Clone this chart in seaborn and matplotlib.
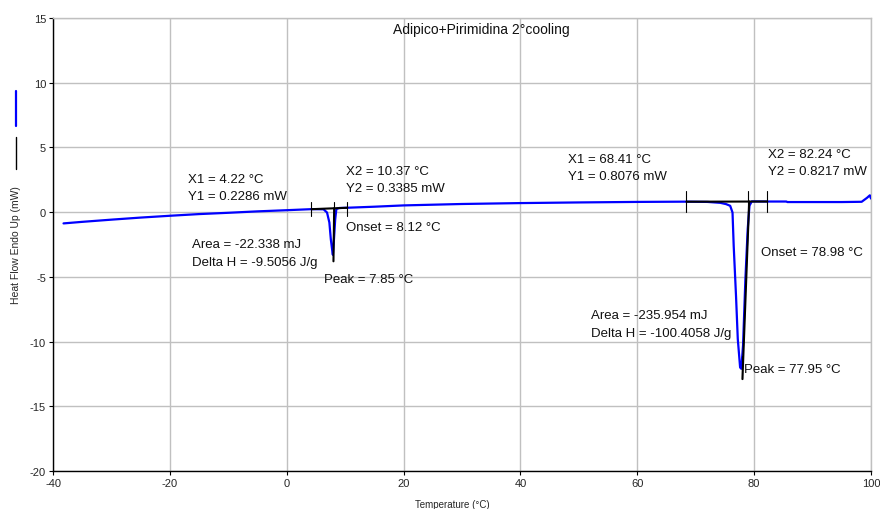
import matplotlib
matplotlib.use("Agg")
import matplotlib.pyplot as plt
from matplotlib.lines import Line2D
import seaborn as sns
import pandas as pd

# ---- data ----
temperature = [-38.2, -35, -30, -25, -20, -15, -10, -5, 0, 4.22, 6.3, 6.9, 7.3, 7.55,
               7.8, 7.9, 8.1, 8.3, 8.5, 9.0, 10.37, 15, 20, 30, 40, 50, 60, 68.41,
               72, 74.2, 75.2, 75.9, 76.3, 76.5, 76.9, 77.2, 77.6, 77.8, 78.1, 78.5,
               78.9, 79.2, 79.6, 82.24, 85.5, 85.7, 95, 98.4, 99.3, 99.8, 100]
heat_flow = [-0.87, -0.75, -0.58, -0.42, -0.28, -0.15, -0.05, 0.06, 0.15, 0.23, 0.22,
             -0.03, -0.8, -2.1, -3.0, -3.3, -2.0, -0.55, 0.25, 0.32, 0.34, 0.42, 0.52,
             0.63, 0.70, 0.75, 0.79, 0.81, 0.79, 0.72, 0.62, 0.49, -0.03, -2.6, -6.5,
             -9.8, -12.0, -12.1, -10.3, -5.2, -1.3, 0.5, 0.83, 0.82, 0.82, 0.78, 0.78,
             0.80, 1.1, 1.3, 1.05]

# peak 1 analysis
base1_x = [4.22, 10.37]
base1_y = [0.2286, 0.3385]
marks1_x = [4.22, 8.12, 10.37]
tangent1_x = [8.12, 8.0]
tangent1_y = [0.30, -3.8]
# peak 2 analysis
base2_x = [68.41, 82.24]
base2_y = [0.8076, 0.8217]
marks2_x = [68.41, 78.98, 82.24]
tangent2_x = [79.15, 78.0]
tangent2_y = [0.82, -12.9]
peak2_x = [77.95, 77.95]
peak2_y = [-11.1, -12.9]

labels = [
    (-16.9, 2.55, "X1 = 4.22 °C"),
    (-16.9, 1.24, "Y1 = 0.2286 mW"),
    (10.2, 3.17, "X2 = 10.37 °C"),
    (10.2, 1.85, "Y2 = 0.3385 mW"),
    (-16.2, -2.47, "Area = -22.338 mJ"),
    (-16.2, -3.86, "Delta H = -9.5056 J/g"),
    (10.2, -1.16, "Onset = 8.12 °C"),
    (6.4, -5.18, "Peak = 7.85 °C"),
    (48.2, 4.10, "X1 = 68.41 °C"),
    (48.2, 2.78, "Y1 = 0.8076 mW"),
    (82.3, 4.48, "X2 = 82.24 °C"),
    (82.3, 3.17, "Y2 = 0.8217 mW"),
    (81.2, -3.09, "Onset = 78.98 °C"),
    (52.0, -7.96, "Area = -235.954 mJ"),
    (52.0, -9.35, "Delta H = -100.4058 J/g"),
    (78.3, -12.1, "Peak = 77.95 °C"),
]
title = "Adipico+Pirimidina 2°cooling"
x_ticks = [-40, -20, 0, 20, 40, 60, 80, 100]
y_ticks = [-20, -15, -10, -5, 0, 5, 10, 15]

# ---- style ----
sns.set_style("white")
plt.rcParams['font.family'] = ['Liberation Sans', 'DejaVu Sans']
plt.rcParams['axes.unicode_minus'] = False

fig = plt.figure(figsize=(8.8, 5.1), dpi=100)
ax = fig.add_axes([53 / 880, 1 - 472 / 510, 818 / 880, 453 / 510])

df = pd.DataFrame({"T": temperature, "HF": heat_flow})
sns.lineplot(data=df, x="T", y="HF", ax=ax, color="#0000ff", lw=1.6,
             estimator=None, sort=False, zorder=3)

black = dict(color="black", lw=1.5, zorder=4)
ax.plot(base1_x, base1_y, **black)
ax.plot(tangent1_x, tangent1_y, **black)
for xm in marks1_x:
    ax.plot([xm, xm], [-0.3, 0.8], color="black", lw=0.8, zorder=4)
ax.plot(base2_x, base2_y, **black)
ax.plot(tangent2_x, tangent2_y, **black)
ax.plot(peak2_x, peak2_y, color="black", lw=0.8, zorder=4)
for xm in marks2_x:
    ax.plot([xm, xm], [0.0, 1.65], color="black", lw=0.8, zorder=4)

for x, y, s in labels:
    ax.text(x, y, s, fontsize=9.5, ha="left", va="center", color="#111111", zorder=5)

ax.text(0.523, 0.976, title, transform=ax.transAxes, ha="center", va="center",
        fontsize=10, color="#111111")

ax.set_xlim(-40, 100)
ax.set_ylim(-20, 15)
ax.set_xticks(x_ticks)
ax.set_yticks(y_ticks)
ax.tick_params(axis="both", labelsize=8, length=3, width=0.8, direction="out",
               color="black", pad=2, left=True, bottom=True)
ax.grid(True, color="#c0c0c0", lw=1)
for s in ["top", "right"]:
    ax.spines[s].set_color("#c0c0c0")
    ax.spines[s].set_linewidth(1)
for s in ["left", "bottom"]:
    ax.spines[s].set_color("black")
    ax.spines[s].set_linewidth(1)

ax.set_xlabel("Temperature (°C)", fontsize=7)
ax.set_ylabel("Heat Flow Endo Up (mW)", fontsize=7.5)
ax.xaxis.set_label_coords((452 - 53) / 818, -(500 - 472) / 453)
ax.yaxis.set_label_coords(-(53 - 21) / 818, 0.5)

# series key drawn beside the y label
fig.add_artist(Line2D([15.7 / 880] * 2, [1 - 91.7 / 510, 1 - 126.7 / 510],
                      color="#0000ff", lw=1.6))
fig.add_artist(Line2D([15.7 / 880] * 2, [1 - 138 / 510, 1 - 170 / 510],
                      color="black", lw=1.0))

fig.savefig("out.png", dpi=100)
